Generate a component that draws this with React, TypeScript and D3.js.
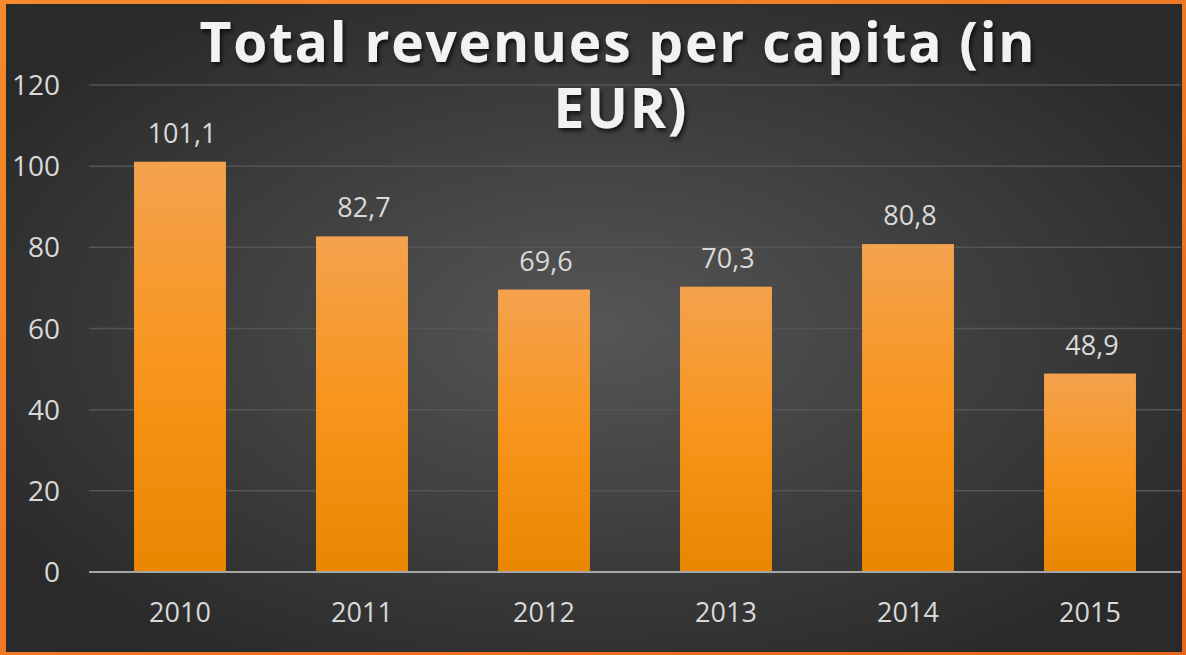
import React, { useEffect, useRef } from "react"
import * as d3 from "d3"

const years = ["2010", "2011", "2012", "2013", "2014", "2015"]
const revenues = [101.1, 82.7, 69.6, 70.3, 80.8, 48.9]
const yTicks = [0, 20, 40, 60, 80, 100, 120]
const titleLines = ["Total revenues per capita (in", "EUR)"]

const W = 1186
const H = 655

export default function App() {
  const ref = useRef<SVGSVGElement>(null)

  useEffect(() => {
    document.body.style.margin = "0"
    const svg = d3.select(ref.current)
    svg.selectAll("*").remove()

    const defs = svg.append("defs")
    const bg = defs.append("radialGradient").attr("id", "bg")
      .attr("cx", "50%").attr("cy", "50%").attr("r", "60%")
    bg.append("stop").attr("offset", "0%").attr("stop-color", "#565656")
    bg.append("stop").attr("offset", "100%").attr("stop-color", "#2a2a2a")

    const frame = defs.append("linearGradient").attr("id", "frame")
      .attr("x1", 0).attr("y1", 0).attr("x2", 1).attr("y2", 1)
    frame.append("stop").attr("offset", "0%").attr("stop-color", "#f68a2c")
    frame.append("stop").attr("offset", "100%").attr("stop-color", "#e8661c")

    const barGrad = defs.append("linearGradient").attr("id", "bar")
      .attr("x1", 0).attr("y1", 0).attr("x2", 0).attr("y2", 1)
    barGrad.append("stop").attr("offset", "0%").attr("stop-color", "#f4a24e")
    barGrad.append("stop").attr("offset", "50%").attr("stop-color", "#f8951c")
    barGrad.append("stop").attr("offset", "100%").attr("stop-color", "#e98700")

    const shadow = defs.append("filter").attr("id", "shadow")
      .attr("x", "-5%").attr("y", "-20%").attr("width", "110%").attr("height", "150%")
    shadow.append("feDropShadow").attr("dx", 2).attr("dy", 3)
      .attr("stdDeviation", 2).attr("flood-color", "#000").attr("flood-opacity", 0.7)

    // frame + background
    svg.append("rect").attr("width", W).attr("height", H).attr("fill", "url(#frame)")
    svg.append("rect").attr("x", 6).attr("y", 4).attr("width", W - 10).attr("height", H - 7)
      .attr("fill", "url(#bg)")

    const x = d3.scaleBand<string>()
      .domain(years)
      .range([89, 1181])
      .paddingInner(0.495)
      .paddingOuter(0.2475)

    const y = d3.scaleLinear().domain([0, 120]).range([572, 85])

    const font = "'Open Sans', 'DejaVu Sans', sans-serif"

    // gridlines
    svg.append("g").selectAll("line")
      .data(yTicks.filter(d => d > 0))
      .enter().append("line")
      .attr("x1", 89).attr("x2", 1181)
      .attr("y1", d => y(d)).attr("y2", d => y(d))
      .attr("stroke", "#555").attr("stroke-width", 1.5)

    // y labels
    svg.append("g").selectAll("text")
      .data(yTicks)
      .enter().append("text")
      .attr("x", 60).attr("y", d => y(d))
      .attr("dy", "0.36em")
      .attr("text-anchor", "end")
      .style("font-family", font).style("font-size", "28px")
      .attr("fill", "#d9d9d9")
      .text(d => d)

    // bars
    svg.append("g").selectAll("rect")
      .data(revenues)
      .enter().append("rect")
      .attr("x", (d, i) => x(years[i])!)
      .attr("width", x.bandwidth())
      .attr("y", d => y(d))
      .attr("height", d => y(0) - y(d))
      .attr("fill", "url(#bar)")

    // value labels
    svg.append("g").selectAll("text")
      .data(revenues)
      .enter().append("text")
      .attr("x", (d, i) => x(years[i])! + x.bandwidth() / 2 + 2)
      .attr("y", d => y(d) - 19)
      .attr("text-anchor", "middle")
      .style("font-family", font).style("font-size", "27px")
      .attr("fill", "#d9d9d9")
      .text(d => d.toFixed(1).replace(".", ","))

    // baseline axis
    svg.append("line")
      .attr("x1", 89).attr("x2", 1181)
      .attr("y1", y(0)).attr("y2", y(0))
      .attr("stroke", "#a6a6a6").attr("stroke-width", 2)

    // x labels
    svg.append("g").selectAll("text")
      .data(years)
      .enter().append("text")
      .attr("x", d => x(d)! + x.bandwidth() / 2)
      .attr("y", 622)
      .attr("text-anchor", "middle")
      .style("font-family", font).style("font-size", "27px")
      .attr("fill", "#d9d9d9")
      .text(d => d)

    // title
    const title = svg.append("g").attr("filter", "url(#shadow)")
    title.append("text")
      .attr("x", 617).attr("y", 62)
      .attr("text-anchor", "middle")
      .attr("textLength", 835).attr("lengthAdjust", "spacing")
      .style("font-family", font).style("font-size", "55px").style("font-weight", "bold")
      .attr("fill", "#f2f2f2")
      .text(titleLines[0])
    title.append("text")
      .attr("x", 620).attr("y", 128)
      .attr("text-anchor", "middle")
      .attr("textLength", 133).attr("lengthAdjust", "spacing")
      .style("font-family", font).style("font-size", "55px").style("font-weight", "bold")
      .attr("fill", "#f2f2f2")
      .text(titleLines[1])
  }, [])

  return <svg ref={ref} width={W} height={H} style={{ display: "block" }} />
}
